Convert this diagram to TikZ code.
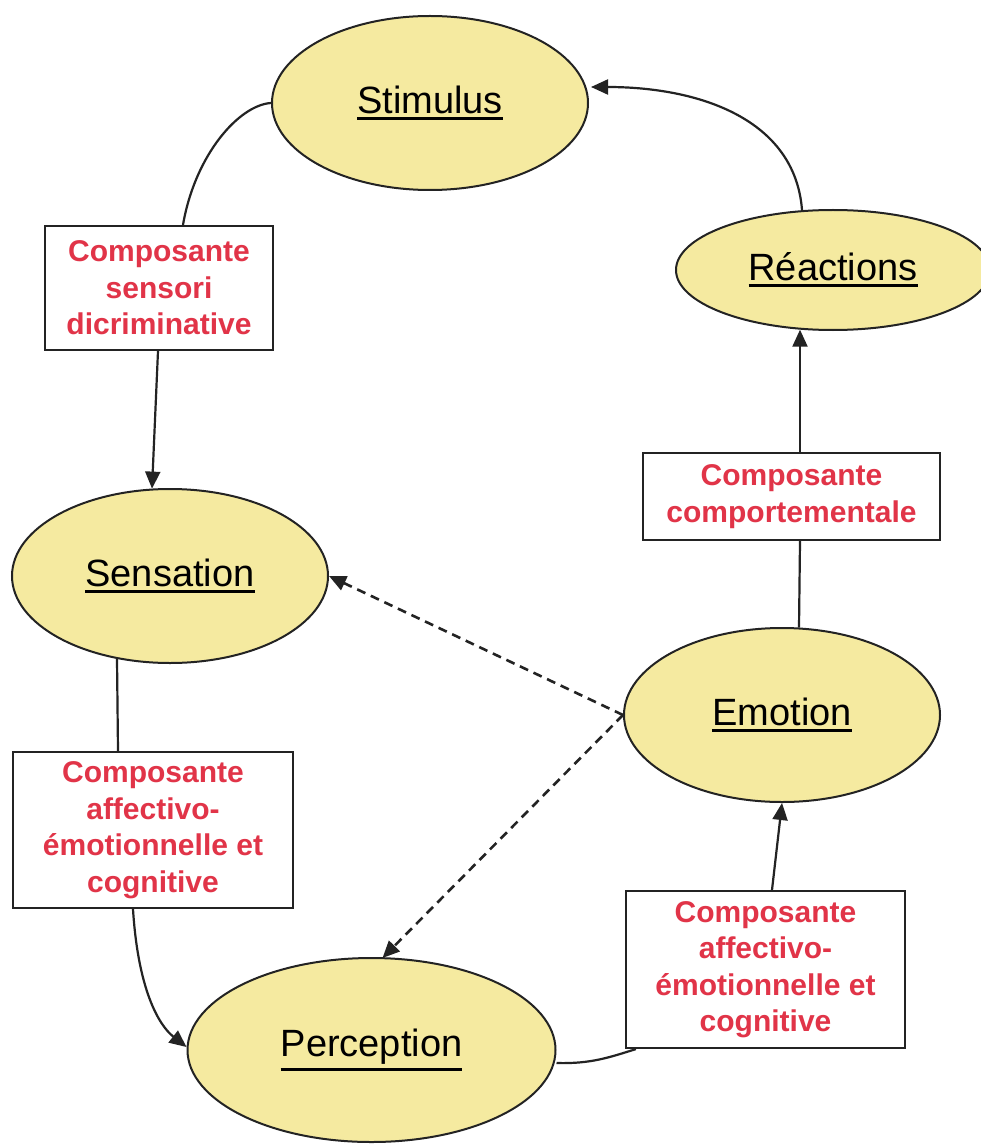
\documentclass[tikz,border=0pt]{standalone}
\usepackage{fontspec}
\setmainfont{Liberation Sans}
\usetikzlibrary{arrows.meta,calc,shapes.geometric}
\definecolor{ellfill}{RGB}{245,234,160}
\definecolor{lblred}{RGB}{225,52,72}
\definecolor{edgec}{RGB}{35,35,35}
\newcommand\ulword[1]{\setbox0\hbox{#1}\rlap{\rule[\dimexpr-\dp0-6pt\relax]{\wd0}{2.8pt}}\box0}
\tikzset{
  ell/.style={ellipse, draw=edgec, line width=2pt, fill=ellfill, inner sep=0pt,
    font=\fontsize{38}{44}\selectfont, text=black},
  cbox/.style={rectangle, draw=edgec, line width=2.2pt, fill=white, inner sep=0pt,
    align=center, text=lblred, font=\bfseries\fontsize{30}{36.5}\selectfont},
  conn/.style={draw=edgec, line width=2.2pt},
  arr/.style={conn, -{Triangle[length=17pt,width=15pt]}},
  darr/.style={conn, line width=2.6pt, dash pattern=on 9pt off 6pt, -{Triangle[length=17pt,width=15pt]}}
}
\begin{document}
\begin{tikzpicture}[x=1pt,y=-1pt]
\useasboundingbox (0,0) rectangle (981,1147);
\fill[white] (0,0) rectangle (981,1147);
% ellipses
\node[ell, minimum width=316, minimum height=174] (stim) at (430,103) {\ulword{Stimulus}};
\node[ell, minimum width=314, minimum height=120] (reac) at (833,270) {\ulword{Réactions}};
\node[ell, minimum width=316, minimum height=174] (sens) at (170,576) {\ulword{Sensation}};
\node[ell, minimum width=316, minimum height=174] (emo) at (782,715) {\ulword{Emotion}};
\node[ell, minimum width=368, minimum height=184] (perc) at (371.5,1050) {\ulword{Perception}};
% boxes
\node[cbox, minimum width=228, minimum height=124] (b1) at (159,288) {Composante\\sensori\\dicriminative};
\node[cbox, minimum width=297, minimum height=87] (b2) at (791.5,496.5) {Composante\\comportementale};
\node[cbox, minimum width=280, minimum height=156] (b3) at (153,830) {Composante\\affectivo-\\émotionnelle et\\cognitive};
\node[cbox, minimum width=279, minimum height=157] (b4) at (765.5,969.5) {Composante\\affectivo-\\émotionnelle et\\cognitive};
% connectors
\draw[conn] (stim.west) .. controls ($(stim.west)+(-32,2)$) and ($(b1.north)+(36,-70)$) .. ($(b1.north)+(24,0)$);
\draw[arr] ($(b1.south)+(-1,0)$) -- ($(sens.north)+(-18,0.6)$);
\draw[conn] ($(sens.south)+(-53,-5)$) -- ($(b3.north)+(-35,0)$);
\draw[arr] ($(b3.south)+(-20,0)$) .. controls ($(b3.south)+(-15,80)$) and ($(perc.west)+(-28,-25)$) .. ($(perc.west)+(0,-3)$);
\draw[conn] ($(perc.east)+(0,13)$) .. controls ($(perc.east)+(35,14)$) and ($(b4.south west)+(-15,8)$) .. ($(b4.south west)+(11,0)$);
\draw[arr] ($(b4.north)+(6.5,0)$) -- (emo.south);
\draw[conn] ($(emo.north)+(17,0.5)$) -- ($(b2.south)+(8.5,0)$);
\draw[arr] ($(b2.north)+(8.5,0)$) -- ($(reac.south)+(-33,-1.3)$);
\draw[arr] ($(reac.north)+(-31,1)$) .. controls ($(reac.north)+(-38,-90)$) and ($(stim.east)+(110,-16)$) .. ($(stim.east)+(2,-16)$);
% dashed
\draw[darr] (emo.west) -- (sens.east);
\draw[darr] (emo.west) -- ($(perc.north)+(11,1)$);
\end{tikzpicture}
\end{document}
